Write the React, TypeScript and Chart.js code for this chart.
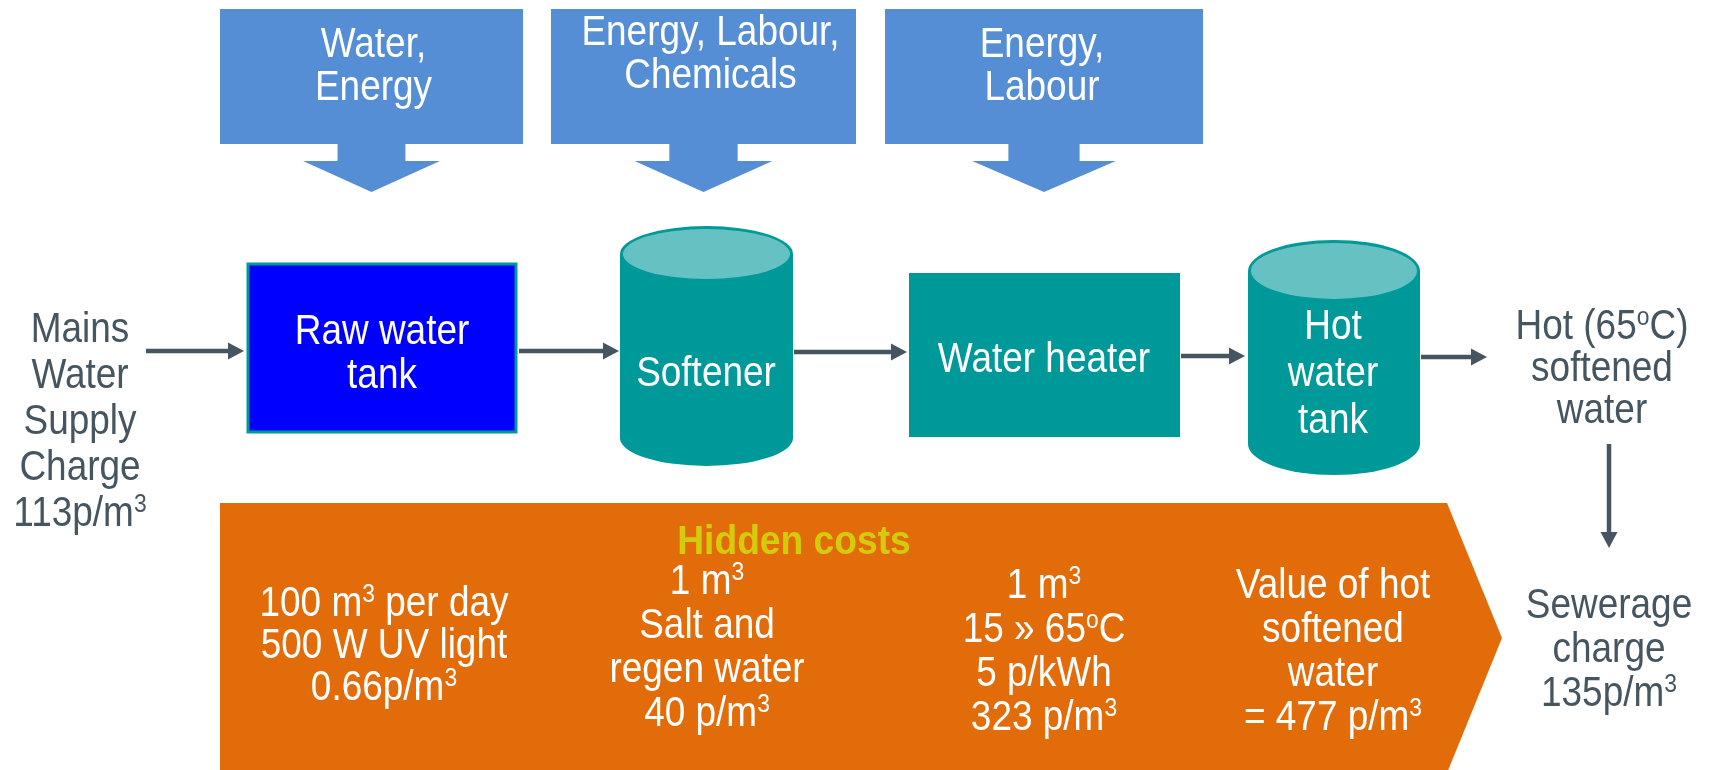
import React, { useEffect, useRef } from "react";
import { Chart, registerables } from "chart.js";
Chart.register(...registerables);

const CANVAS_W = 1719;
const CANVAS_H = 770;

// ---------- text content ----------
const inputLabels: string[][] = [["Water,", "Energy"], ["Energy, Labour,", "Chemicals"], ["Energy,", "Labour"]];
const sourceLabel = ["Mains", "Water", "Supply", "Charge", "113p/m^3"];
const rawTankLabel = ["Raw water", "tank"];
const softenerLabel = ["Softener"];
const heaterLabel = ["Water heater"];
const hotTankLabel = ["Hot", "water", "tank"];
const outputLabel = ["Hot (65^oC)", "softened", "water"];
const sewerLabel = ["Sewerage", "charge", "135p/m^3"];
const hiddenTitle = "Hidden costs";
const costColumns: string[][] = [
  ["100 m^3 per day", "500 W UV light", "0.66p/m^3"],
  ["1 m^3", "Salt and", "regen water", "40 p/m^3"],
  ["1 m^3", "15 » 65^oC", "5 p/kWh", "323 p/m^3"],
  ["Value of hot", "softened", "water", "= 477 p/m^3"],
];

// ---------- diagram geometry (diagram units: x 0..1719, y 0..770 from top) ----------
const inputBoxX0 = [220, 551, 885];
const inputBoxX1 = [523, 856, 1203];
const inputBoxTop = 9;
const inputBoxBottom = 144;
const inputArrowHeadTop = 161;
const inputArrowTip = 192;
const inputTextFirstY = [42, 30, 42];
const inputTextShift = [2, 7, -2];

const flowArrowsX0 = [146, 519, 794, 1181, 1421];
const flowArrowsX1 = [244, 619, 907, 1245, 1487];
const flowArrowsY = [351, 351, 352, 356, 357];

const rawBox = { x0: 248, x1: 516, y0: 264, y1: 432 };
const heaterBox = { x0: 909, x1: 1180, y0: 273, y1: 437 };
const softenerCyl = { x0: 620, x1: 793, topCy: 254, ry: 28, botCy: 438 };
const hotTankCyl = { x0: 1248, x1: 1420, topCy: 271, ry: 31, botCy: 444 };

const bandPoly = { x0: 220, x1: 1447, tipX: 1502, top: 503, bottom: 773 };
const downArrow = { x: 1609, y0: 444, y1: 548 };

const sourceText = { cx: 80, y0: 327, gap: 46 };
const rawText = { cx: 382, y0: 329, gap: 44 };
const softText = { cx: 706, y0: 371, gap: 44 };
const heaterText = { cx: 1044, y0: 357, gap: 44 };
const hotTankText = { cx: 1333, y0: 324, gap: 47 };
const outputText = { cx: 1602, y0: 324, gap: 42 };
const sewerText = { cx: 1609, y0: 603, gap: 44 };
const hiddenText = { cx: 794, y: 540 };
const inputTextGap = 43;
const costColX = [384, 707, 1044, 1333];
const costColY0 = [601, 579, 583, 583];
const costGap = [42, 44, 44, 44];

const FS = 42;
const SX = 0.88;

const C_BLUE = "#558ED5";
const C_TEAL = "#009999";
const C_TEAL_LIGHT = "#66C2C2";
const C_RAW = "#0000FF";
const C_DARK = "#465661";
const C_ORANGE = "#E36C0A";
const C_HIDDEN = "#D4CB0B";

function drawRich(ctx: CanvasRenderingContext2D, text: string, cx: number, cy: number, size: number, color: string, weight: string, sx: number) {
  const parts: { t: string; sup: boolean }[] = [];
  let buf = "";
  for (let i = 0; i < text.length; i++) {
    if (text[i] === "^") {
      if (buf) parts.push({ t: buf, sup: false });
      buf = "";
      parts.push({ t: text[i + 1], sup: true });
      i++;
    } else buf += text[i];
  }
  if (buf) parts.push({ t: buf, sup: false });
  const supSize = size * 0.62;
  const font = (s: number) => `${weight} ${s}px "Liberation Sans", Arial, sans-serif`;
  let total = 0;
  const widths = parts.map((p) => {
    ctx.font = font(p.sup ? supSize : size);
    const w = ctx.measureText(p.t).width * sx;
    total += w;
    return w;
  });
  let x = cx - total / 2;
  const base = cy + size * 0.36;
  ctx.fillStyle = color;
  ctx.textBaseline = "alphabetic";
  ctx.textAlign = "left";
  parts.forEach((p, k) => {
    ctx.save();
    ctx.font = font(p.sup ? supSize : size);
    ctx.translate(x, p.sup ? base - size * 0.33 : base);
    ctx.scale(sx, 1);
    ctx.fillText(p.t, 0, 0);
    ctx.restore();
    x += widths[k];
  });
}

const diagramPlugin = {
  id: "diagram",
  afterDatasetsDraw(chart: any) {
    const ctx: CanvasRenderingContext2D = chart.ctx;
    const xs = chart.scales.x;
    const ys = chart.scales.y;
    const X = (v: number) => xs.getPixelForValue(v);
    const Y = (v: number) => ys.getPixelForValue(v);
    const lines = (arr: string[], cx: number, y0: number, gap: number, color: string) =>
      arr.forEach((s, i) => drawRich(ctx, s, X(cx), Y(y0 + i * gap), FS, color, "normal", SX));

    ctx.save();
    // orange hidden-cost band
    ctx.fillStyle = C_ORANGE;
    ctx.beginPath();
    ctx.moveTo(X(bandPoly.x0), Y(bandPoly.top));
    ctx.lineTo(X(bandPoly.x1), Y(bandPoly.top));
    ctx.lineTo(X(bandPoly.tipX), Y((bandPoly.top + bandPoly.bottom) / 2));
    ctx.lineTo(X(bandPoly.x1), Y(bandPoly.bottom));
    ctx.lineTo(X(bandPoly.x0), Y(bandPoly.bottom));
    ctx.closePath();
    ctx.fill();

    // input boxes with down arrows
    inputLabels.forEach((lab, i) => {
      const x0 = inputBoxX0[i], x1 = inputBoxX1[i];
      const cx = (x0 + x1) / 2;
      const w = x1 - x0;
      const shaft = w * 0.112;
      const head = w * 0.226;
      ctx.fillStyle = C_BLUE;
      ctx.beginPath();
      ctx.moveTo(X(x0), Y(inputBoxTop));
      ctx.lineTo(X(x1), Y(inputBoxTop));
      ctx.lineTo(X(x1), Y(inputBoxBottom));
      ctx.lineTo(X(cx + shaft), Y(inputBoxBottom));
      ctx.lineTo(X(cx + shaft), Y(inputArrowHeadTop));
      ctx.lineTo(X(cx + head), Y(inputArrowHeadTop));
      ctx.lineTo(X(cx), Y(inputArrowTip));
      ctx.lineTo(X(cx - head), Y(inputArrowHeadTop));
      ctx.lineTo(X(cx - shaft), Y(inputArrowHeadTop));
      ctx.lineTo(X(cx - shaft), Y(inputBoxBottom));
      ctx.lineTo(X(x0), Y(inputBoxBottom));
      ctx.closePath();
      ctx.fill();
      lines(lab, cx + inputTextShift[i], inputTextFirstY[i], inputTextGap, "#FFFFFF");
    });

    // raw water tank box
    ctx.fillStyle = C_RAW;
    ctx.fillRect(X(rawBox.x0), Y(rawBox.y0), X(rawBox.x1) - X(rawBox.x0), Y(rawBox.y1) - Y(rawBox.y0));
    ctx.strokeStyle = C_TEAL;
    ctx.lineWidth = 3;
    ctx.strokeRect(X(rawBox.x0), Y(rawBox.y0), X(rawBox.x1) - X(rawBox.x0), Y(rawBox.y1) - Y(rawBox.y0));

    // water heater box
    ctx.fillStyle = C_TEAL;
    ctx.fillRect(X(heaterBox.x0), Y(heaterBox.y0), X(heaterBox.x1) - X(heaterBox.x0), Y(heaterBox.y1) - Y(heaterBox.y0));

    // cylinders
    [softenerCyl, hotTankCyl].forEach((c) => {
      const cx = X((c.x0 + c.x1) / 2);
      const rx = (X(c.x1) - X(c.x0)) / 2;
      const ry = Y(c.topCy + c.ry) - Y(c.topCy);
      ctx.fillStyle = C_TEAL;
      ctx.beginPath();
      ctx.moveTo(X(c.x0), Y(c.topCy));
      ctx.lineTo(X(c.x0), Y(c.botCy));
      ctx.ellipse(cx, Y(c.botCy), rx, ry, 0, Math.PI, 0, true);
      ctx.lineTo(X(c.x1), Y(c.topCy));
      ctx.closePath();
      ctx.fill();
      ctx.beginPath();
      ctx.ellipse(cx, Y(c.topCy), rx, ry, 0, 0, Math.PI * 2);
      ctx.fill();
      ctx.beginPath();
      ctx.ellipse(cx, Y(c.topCy), rx - 3, ry - 3, 0, 0, Math.PI * 2);
      ctx.fillStyle = C_TEAL_LIGHT;
      ctx.fill();
    });

    // flow arrows
    const arrowH = (x0: number, x1: number, y: number) => {
      ctx.strokeStyle = C_DARK;
      ctx.fillStyle = C_DARK;
      ctx.lineWidth = 4.5;
      ctx.beginPath();
      ctx.moveTo(X(x0), Y(y));
      ctx.lineTo(X(x1) - 14, Y(y));
      ctx.stroke();
      ctx.beginPath();
      ctx.moveTo(X(x1), Y(y));
      ctx.lineTo(X(x1) - 16, Y(y) - 8.5);
      ctx.lineTo(X(x1) - 16, Y(y) + 8.5);
      ctx.closePath();
      ctx.fill();
    };
    flowArrowsX0.forEach((x0, i) => arrowH(x0, flowArrowsX1[i], flowArrowsY[i]));
    // downward arrow
    ctx.beginPath();
    ctx.moveTo(X(downArrow.x), Y(downArrow.y0));
    ctx.lineTo(X(downArrow.x), Y(downArrow.y1) - 14);
    ctx.stroke();
    ctx.beginPath();
    ctx.moveTo(X(downArrow.x), Y(downArrow.y1));
    ctx.lineTo(X(downArrow.x) - 8.5, Y(downArrow.y1) - 16);
    ctx.lineTo(X(downArrow.x) + 8.5, Y(downArrow.y1) - 16);
    ctx.closePath();
    ctx.fill();

    // texts
    lines(sourceLabel, sourceText.cx, sourceText.y0, sourceText.gap, C_DARK);
    lines(rawTankLabel, rawText.cx, rawText.y0, rawText.gap, "#FFFFFF");
    lines(softenerLabel, softText.cx, softText.y0, softText.gap, "#FFFFFF");
    lines(heaterLabel, heaterText.cx, heaterText.y0, heaterText.gap, "#FFFFFF");
    lines(hotTankLabel, hotTankText.cx, hotTankText.y0, hotTankText.gap, "#FFFFFF");
    lines(outputLabel, outputText.cx, outputText.y0, outputText.gap, C_DARK);
    lines(sewerLabel, sewerText.cx, sewerText.y0, sewerText.gap, C_DARK);
    drawRich(ctx, hiddenTitle, X(hiddenText.cx), Y(hiddenText.y), 40, C_HIDDEN, "bold", 0.93);
    costColumns.forEach((col, i) => lines(col, costColX[i], costColY0[i], costGap[i], "#FFFFFF"));
    ctx.restore();
  },
};

export default function App() {
  const ref = useRef<HTMLCanvasElement | null>(null);
  useEffect(() => {
    document.body.style.margin = "0";
    const chart = new Chart(ref.current as HTMLCanvasElement, {
      type: "scatter",
      data: { datasets: [{ label: "diagram", data: [], pointRadius: 0 }] },
      options: {
        animation: false,
        responsive: false,
        maintainAspectRatio: false,
        layout: { padding: 0 },
        plugins: { legend: { display: false }, tooltip: { enabled: false } },
        scales: {
          x: { type: "linear", min: 0, max: CANVAS_W, display: false },
          y: { type: "linear", min: 0, max: CANVAS_H, reverse: true, display: false },
        },
      },
      plugins: [diagramPlugin],
    } as any);
    return () => chart.destroy();
  }, []);
  return (
    <div style={{ position: "absolute", left: 0, top: 0, width: CANVAS_W, height: CANVAS_H, background: "#fff" }}>
      <canvas ref={ref} width={CANVAS_W} height={CANVAS_H} style={{ width: CANVAS_W, height: CANVAS_H }} />
    </div>
  );
}
